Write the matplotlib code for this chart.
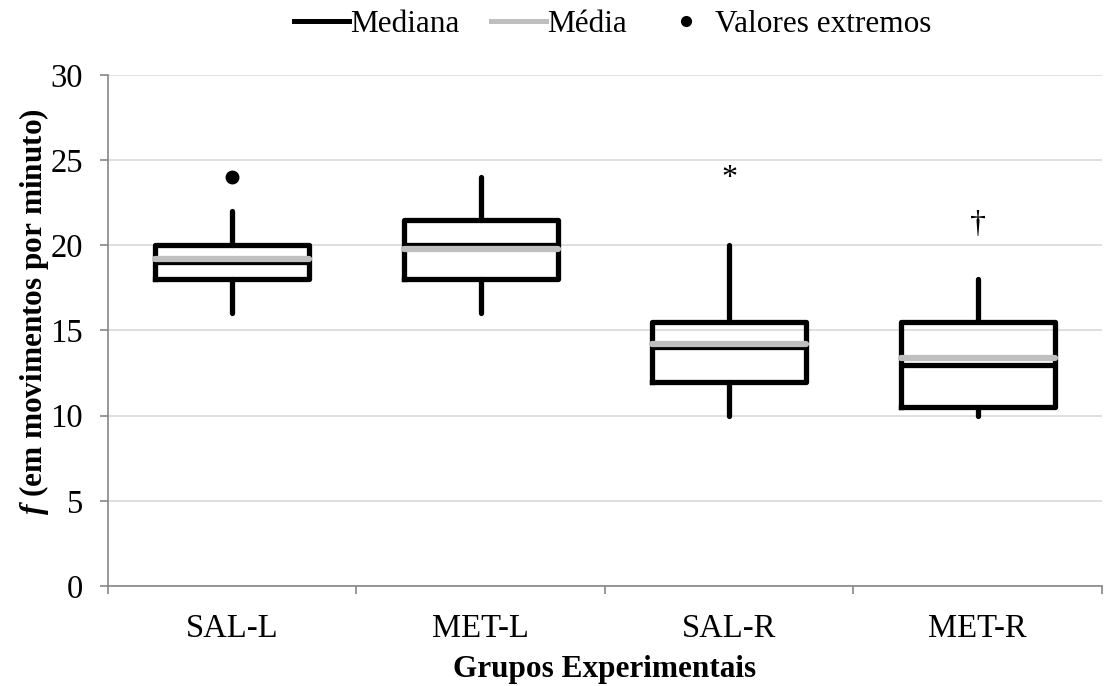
import matplotlib.pyplot as plt
from matplotlib.lines import Line2D

plt.rcParams['font.family'] = ['Liberation Serif', 'DejaVu Serif']
plt.rcParams['mathtext.fontset'] = 'custom'
plt.rcParams['mathtext.it'] = 'Liberation Serif:italic:bold'

# data
groups = ["SAL-L", "MET-L", "SAL-R", "MET-R"]
q1 = [18, 18, 12, 10.5]
median = [19, 20, 14, 13]
q3 = [20, 21.5, 15.5, 15.5]
whisk_lo = [16, 16, 10, 10]
whisk_hi = [22, 24, 20, 18]
mean = [19.2, 19.8, 14.2, 13.4]
outliers = [[24], [], [], []]
marks = ["", "", "*", "†"]
mark_y = [0, 0, 23.9, 21.2]

stats = []
for i, g in enumerate(groups):
    stats.append(dict(label=g, q1=q1[i], med=median[i], q3=q3[i],
                      whislo=whisk_lo[i], whishi=whisk_hi[i],
                      mean=mean[i], fliers=outliers[i]))

fig = plt.figure(figsize=(11.08, 6.86), dpi=100)
ax = fig.add_axes([0.0975, 0.1458, 0.897, 0.745])

grid_col = '#d9d9d9'
axis_col = '#868686'

ax.bxp(stats, positions=range(len(groups)), widths=0.62,
       showmeans=True, meanline=True, showcaps=False,
       boxprops=dict(color='black', linewidth=3.8),
       medianprops=dict(color='black', linewidth=3.8, solid_capstyle='butt'),
       meanprops=dict(color='#bfbfbf', linewidth=4.5, linestyle='-', solid_capstyle='round'),
       whiskerprops=dict(color='black', linewidth=3.8, solid_capstyle='round'),
       flierprops=dict(marker='o', markerfacecolor='black', markeredgecolor='black', markersize=9),
       zorder=3)

for i, m in enumerate(marks):
    if m:
        ax.text(i, mark_y[i], m, ha='center', va='center', fontsize=23)

ax.set_ylim(0, 30)
ax.set_xlim(-0.5, len(groups) - 0.5)
ax.set_yticks(range(0, 31, 5))
ax.set_xticks(range(len(groups)))
ax.set_xticklabels(groups)
ax.set_xticks([x - 0.5 for x in range(len(groups) + 1)], minor=True)
ax.yaxis.grid(True, color=grid_col, linewidth=1.2, zorder=0)
ax.set_axisbelow(True)

for side in ['top', 'right']:
    ax.spines[side].set_visible(False)
for side in ['left', 'bottom']:
    ax.spines[side].set_color(axis_col)
    ax.spines[side].set_linewidth(1.2)

ax.tick_params(axis='y', length=6, width=1.2, color=axis_col, labelsize=23.5, pad=12)
ax.tick_params(axis='x', which='major', length=0, labelsize=23.5, pad=20)
ax.tick_params(axis='x', which='minor', length=6, width=1.2, color=axis_col)

ax.set_ylabel(r"$f$ (em movimentos por minuto)", fontsize=22.5, fontweight='bold')
ax.yaxis.set_label_coords(-0.057, 0.536)
ax.set_xlabel("Grupos Experimentais", fontsize=22.5, fontweight='bold', labelpad=8)

handles = [Line2D([], [], color='black', linewidth=3.6),
           Line2D([], [], color='#bfbfbf', linewidth=3.6),
           Line2D([], [], color='black', marker='o', linestyle='none', markersize=7)]
fig.legend(handles, ["Mediana", "Média", "Valores extremos"], loc='upper center',
           bbox_to_anchor=(0.553, 1.027), ncol=3, frameon=False, fontsize=22.5,
           handlelength=1.75, handletextpad=0.05, columnspacing=1.0)

fig.savefig("out.png", dpi=100)
